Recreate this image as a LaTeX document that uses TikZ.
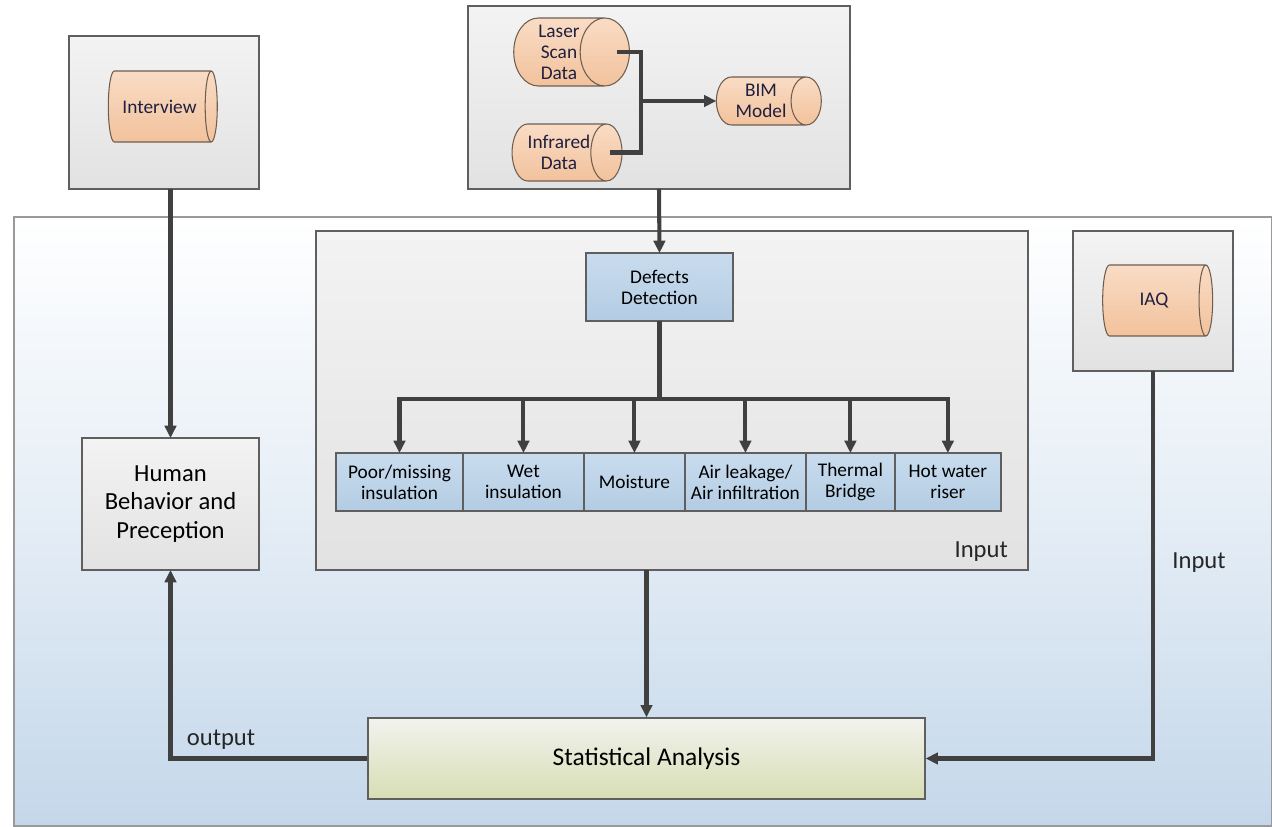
\documentclass[tikz,border=0pt]{standalone}
\usepackage{fontspec}
\setmainfont{Carlito}
\usepackage{tikz}
\usetikzlibrary{arrows.meta,positioning,shapes.geometric}
\definecolor{lnk}{HTML}{404040}
\definecolor{pnlborder}{HTML}{5F5F5F}
\definecolor{pnltop}{HTML}{F3F3F3}
\definecolor{pnlbot}{HTML}{E2E2E2}
\definecolor{peachtop}{HTML}{F9DCC5}
\definecolor{peachbot}{HTML}{F2C29C}
\definecolor{peachline}{HTML}{6E5E50}
\definecolor{bluetop}{HTML}{C9DCEE}
\definecolor{bluebot}{HTML}{B3CCE3}
\definecolor{greentop}{HTML}{F2F2EE}
\definecolor{greenbot}{HTML}{D7DEB4}
\definecolor{bgbot}{HTML}{C4D7EA}
\definecolor{cyltext}{HTML}{1F1F40}

\begin{document}
\begin{tikzpicture}[
  x=0.02cm, y=-0.02cm,
  panel/.style={draw=pnlborder, line width=0.8pt, top color=pnltop, bottom color=pnlbot,
                inner sep=0pt, outer sep=0pt},
  store/.style={cylinder, shape border rotate=0, aspect=0.9, draw=peachline, line width=0.6pt,
                top color=peachtop, bottom color=peachbot, font=\fontsize{11}{12}\selectfont,
                text=cyltext, align=center, inner sep=0pt, outer sep=0pt},
  defect/.style={draw=pnlborder, line width=0.8pt, top color=bluetop, bottom color=bluebot,
                 font=\fontsize{11}{12}\selectfont, align=center, minimum height=1.16cm,
                 inner sep=1pt, outer sep=0pt},
  conn/.style={lnk, line width=2.3pt},
  arr/.style={lnk, line width=2.3pt, -{Triangle[length=7pt,width=6.5pt]}},
  note/.style={font=\fontsize{14}{16}\selectfont, text=black!85},
]
\useasboundingbox (0,0) rectangle (1272,827);

% background area
\node[draw=gray!80, line width=0.8pt, top color=white, bottom color=bgbot, middle color=white!55!bgbot,
      minimum width=25.16cm, minimum height=12.18cm, inner sep=0pt] (area) at (643,521.5) {};

% data sources
\node[panel, minimum width=3.8cm, minimum height=3.06cm] (intpanel) at (164,112.5) {};
\node[store, minimum height=2.18cm, minimum width=1.42cm] (interview) at (159.5,106.5) {Interview};

\node[panel, minimum width=7.64cm, minimum height=3.66cm] (scanpanel) at (659,97.5) {};
\node[store, minimum height=2.1cm, minimum width=1.36cm] (laser) at (559,52) {Laser\\Scan\\Data};
\node[store, minimum height=2.1cm, minimum width=1.14cm] (infra) at (559,152.5) {Infrared\\Data};
\node[store, minimum height=2.1cm, minimum width=0.96cm] (bim) at (761,101) {BIM\\Model};
\coordinate (hub) at (641,101);

\node[panel, minimum width=3.2cm, minimum height=2.8cm] (iaqpanel) at (1153,301) {};
\node[store, minimum height=2.2cm, minimum width=1.42cm] (iaq) at (1154,300.5) {IAQ};

% defects
\node[panel, minimum width=14.24cm, minimum height=6.78cm] (detpanel) at (672,400.5) {};
\node[note, anchor=south east] (inlbl) at (1014,568) {Input};
\node[defect, minimum width=2.94cm, minimum height=1.36cm] (detect) at (659.5,287) {Defects\\Detection};

\node[defect, minimum width=2.54cm, anchor=west] (d1) at (336,482) {Poor/missing\\insulation};
\node[defect, minimum width=2.42cm, right=0pt of d1] (d2) {Wet\\insulation};
\node[defect, minimum width=2.02cm, right=0pt of d2] (d3) {Moisture};
\node[defect, minimum width=2.42cm, right=0pt of d3] (d4) {Air leakage/\\Air infiltration};
\node[defect, minimum width=1.78cm, right=0pt of d4] (d5) {Thermal\\Bridge};
\node[defect, minimum width=2.12cm, right=0pt of d5] (d6) {Hot water\\riser};

% results
\node[panel, minimum width=3.54cm, minimum height=2.64cm, align=center,
      font=\fontsize{14}{16}\selectfont] (human) at (170.5,504) {Human\\Behavior and\\Preception};
\node[draw=pnlborder, line width=0.8pt, top color=greentop, bottom color=greenbot,
      minimum width=11.14cm, minimum height=1.62cm, font=\fontsize{14.5}{16}\selectfont]
      (stats) at (646.5,758.5) {Statistical Analysis};

% connectors
\draw[conn] ([xshift=-0.24cm]laser.east) -| (hub) |- ([xshift=-0.24cm]infra.east);
\draw[arr] (hub) -- (bim);
\draw[arr] (scanpanel.south) -- (detect.north);
\foreach \d in {d1,d2,d3,d4,d5,d6}
  \draw[arr] (detect.south) -- ++(0,78) -| (\d.north);
\draw[arr] (intpanel.south -| human.north) -- (human.north);
\draw[arr] (detpanel.south -| stats.north) -- (stats.north);
\draw[arr] (iaqpanel.south) |- (stats.east);
\draw[arr] (stats.west) -| (human.south);

\node[note] (iaqlbl) at (1199,563) {Input};
\node[note] (outlbl) at (221,740) {output};
\end{tikzpicture}
\end{document}
